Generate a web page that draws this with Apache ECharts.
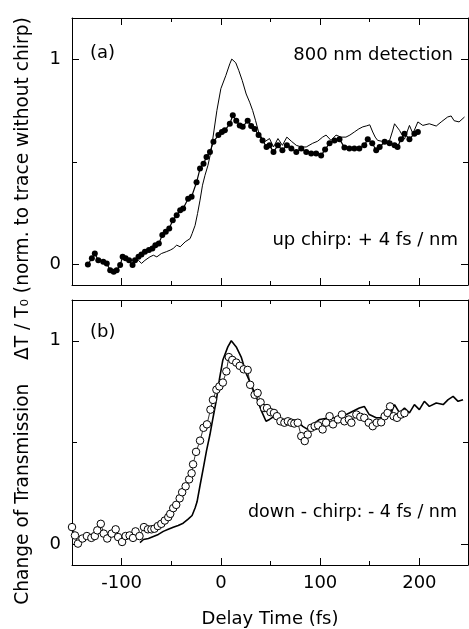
<!DOCTYPE html>
<html><head><meta charset="utf-8">
<script src="https://cdn.jsdelivr.net/npm/echarts@6/dist/echarts.min.js"></script>
<style>html,body{margin:0;padding:0;background:#fff}#c{width:469px;height:629px}</style>
</head><body><div id="c"></div>
<script>
// ---- data ----
const xTicksMajor = [-100, 0, 100, 200];
const xTicksMinor = [-50, 50, 150];
const yTicksMajor = [0, 1];
const yTicksMinor = [0.5];
const xRange = [-150, 249];
const yRange = [-0.1, 1.2];

// panel (a): reference trace without chirp (solid line)
const refA = [[-87,0.013],[-83,0.02],[-80,0.005],[-76.5,0.02],[-71.5,0.037],[-68,0.045],[-64.5,0.037],[-60,0.053],[-55,0.062],[-51,0.07],[-48,0.078],[-44.5,0.094],[-41,0.086],[-36,0.11],[-31,0.126],[-29,0.15],[-26,0.19],[-23.5,0.248],[-21,0.313],[-18.5,0.386],[-16,0.434],[-13,0.483],[-10,0.55],[-7,0.65],[-4,0.75],[0,0.856],[5,0.92],[9,0.977],[11,1.0],[15,0.982],[18,0.945],[21.5,0.896],[25.5,0.83],[29,0.79],[32,0.75],[35,0.7],[38,0.645],[41.5,0.613],[45,0.6],[49,0.613],[53,0.572],[57.5,0.613],[62,0.58],[66.5,0.62],[71,0.6],[76,0.58],[81,0.572],[86,0.572],[92.5,0.59],[97.5,0.6],[102.5,0.62],[106,0.63],[111,0.604],[116,0.63],[121,0.62],[126,0.62],[130,0.63],[134.5,0.645],[139,0.66],[143,0.67],[147,0.675],[150,0.68],[153,0.645],[155.5,0.62],[158,0.604],[162,0.6],[165,0.597],[170,0.604],[173,0.65],[175,0.685],[180,0.653],[185,0.61],[190,0.677],[193.5,0.637],[198.5,0.694],[203.5,0.677],[210,0.685],[217,0.674],[222,0.694],[228.5,0.718],[232,0.723],[235,0.7],[240,0.694],[245.5,0.718]];
// panel (a): up chirp data (filled dots)
const dotsA = [[-134,0.0],[-130,0.03],[-127,0.053],[-123.5,0.02],[-118.5,0.013],[-115,0.005],[-111.5,-0.028],[-108,-0.035],[-105,-0.028],[-101.5,-0.003],[-99,0.037],[-96,0.03],[-92.5,0.02],[-89,-0.003],[-86.5,0.02],[-83,0.037],[-80,0.048],[-76.5,0.062],[-72.5,0.07],[-69,0.078],[-66,0.094],[-62.5,0.102],[-59,0.143],[-55.5,0.159],[-52,0.175],[-48.5,0.215],[-44.5,0.24],[-41,0.264],[-38,0.272],[-33,0.32],[-29.5,0.33],[-24.5,0.4],[-21,0.467],[-17.5,0.49],[-14.5,0.523],[-11,0.548],[-7.5,0.597],[-2.5,0.63],[1,0.645],[4,0.653],[9,0.685],[12,0.726],[15.5,0.7],[19,0.677],[22,0.67],[27,0.7],[30.5,0.674],[34,0.66],[38,0.63],[42,0.604],[46,0.572],[49,0.58],[53,0.548],[57.5,0.58],[62,0.556],[66.5,0.58],[71,0.564],[76,0.548],[81,0.564],[86,0.548],[91,0.54],[96,0.54],[101,0.53],[105,0.56],[109.5,0.59],[114.5,0.604],[119.5,0.61],[124.5,0.57],[129.5,0.564],[134.5,0.564],[139.5,0.564],[144.5,0.58],[148,0.61],[152.5,0.59],[156.5,0.556],[160,0.572],[165,0.597],[170,0.59],[175,0.58],[178,0.572],[181.5,0.61],[185,0.637],[190,0.61],[195,0.637],[198.5,0.645]];
// panel (b): reference trace without chirp (solid line)
const refB = [[-81.5,0.01],[-78,0.025],[-73,0.03],[-68,0.04],[-63,0.05],[-58,0.065],[-53,0.075],[-48,0.085],[-43,0.094],[-38,0.105],[-33,0.125],[-29,0.143],[-26,0.18],[-24,0.21],[-21,0.29],[-17.5,0.38],[-14.5,0.46],[-11,0.54],[-8,0.62],[-4.5,0.71],[-1.5,0.81],[2,0.906],[7,0.97],[10.5,1.0],[15.5,0.97],[20.5,0.92],[25.5,0.84],[30.5,0.784],[35.5,0.727],[40.5,0.66],[45.5,0.605],[49,0.614],[54,0.63],[59,0.605],[66,0.614],[71,0.614],[77.5,0.605],[82.5,0.58],[87.5,0.565],[92.5,0.59],[99.5,0.614],[109.5,0.622],[119.5,0.622],[129.5,0.646],[139.5,0.67],[144.5,0.678],[149.5,0.638],[156.5,0.622],[165,0.622],[171.5,0.646],[175,0.687],[180,0.646],[185,0.67],[190,0.646],[195,0.687],[200,0.662],[205,0.703],[210,0.678],[217,0.695],[224,0.687],[229,0.711],[234,0.727],[239,0.703],[244,0.711]];
// panel (b): down chirp data (open circles)
const circlesB = [[-150,0.086],[-147,0.045],[-144,0.005],[-139.5,0.03],[-135,0.042],[-130.5,0.033],[-127,0.042],[-124.5,0.07],[-121,0.102],[-118,0.054],[-114.5,0.03],[-110,0.054],[-106,0.075],[-103.5,0.037],[-99.5,0.013],[-96,0.042],[-92,0.045],[-88.5,0.033],[-86,0.065],[-82,0.042],[-77.5,0.086],[-73.5,0.075],[-70,0.075],[-67,0.078],[-63.5,0.091],[-60,0.102],[-56.5,0.118],[-53,0.135],[-51,0.151],[-48,0.179],[-45,0.195],[-41.5,0.227],[-39,0.257],[-35.5,0.286],[-32,0.32],[-29.5,0.35],[-28,0.394],[-25,0.455],[-21,0.51],[-17.5,0.573],[-14,0.59],[-10.5,0.662],[-8,0.71],[-4.5,0.76],[-1.5,0.776],[2,0.795],[5.5,0.85],[8,0.92],[11.5,0.906],[15.5,0.893],[19,0.877],[23,0.86],[27,0.857],[29.5,0.784],[34,0.735],[37,0.744],[40,0.698],[43.5,0.67],[46.5,0.67],[50,0.65],[53.5,0.646],[56.5,0.63],[60,0.605],[64,0.598],[67.5,0.605],[71,0.598],[74,0.594],[77.5,0.598],[81,0.532],[84.5,0.508],[87.5,0.54],[91,0.573],[94.5,0.581],[98,0.585],[102.5,0.565],[106,0.598],[109.5,0.63],[113,0.59],[118,0.614],[122,0.638],[124.5,0.605],[129,0.614],[131.5,0.598],[136.5,0.638],[140.5,0.627],[144.5,0.622],[149,0.598],[153,0.581],[157,0.598],[161.5,0.6],[165,0.63],[168,0.646],[170.5,0.678],[174,0.63],[177.5,0.622],[181.5,0.638],[185,0.645]];

const FONT = 'DejaVu Sans';
const chart = echarts.init(document.getElementById('c'), null, {renderer: 'canvas'});

function xAx(grid, pos, major, labels, name) {
  const vals = major ? xTicksMajor : xTicksMinor;
  const a = {
    type: 'value', gridIndex: grid, position: pos, min: xRange[0], max: xRange[1],
    axisLine: {show: major, onZero: false, lineStyle: {color: '#000', width: 1}},
    axisTick: {show: true, inside: true, length: major ? 7 : 4, customValues: vals, lineStyle: {color: '#000', width: 1}},
    axisLabel: {show: labels, customValues: vals, color: '#000', fontFamily: FONT, fontSize: 18, margin: 9},
    splitLine: {show: false}
  };
  if (name) {
    a.name = name; a.nameLocation = 'middle'; a.nameGap = 45;
    a.nameTextStyle = {color: '#000', fontFamily: FONT, fontSize: 18};
  }
  return a;
}
function yAx(grid, pos, major, labels) {
  const vals = major ? yTicksMajor : yTicksMinor;
  return {
    type: 'value', gridIndex: grid, position: pos, min: yRange[0], max: yRange[1],
    axisLine: {show: major, onZero: false, lineStyle: {color: '#000', width: 1}},
    axisTick: {show: true, inside: true, length: major ? 7 : 5, customValues: vals, lineStyle: {color: '#000', width: 1}},
    axisLabel: {show: labels, customValues: vals, color: '#000', fontFamily: FONT, fontSize: 18, margin: 11},
    splitLine: {show: false}
  };
}

const xAxis = [
  xAx(0, 'bottom', true, false), xAx(0, 'bottom', false, false), xAx(0, 'top', true, false), xAx(0, 'top', false, false),
  xAx(1, 'bottom', true, true, 'Delay Time (fs)'), xAx(1, 'bottom', false, false), xAx(1, 'top', true, false), xAx(1, 'top', false, false)
];
const yAxis = [
  yAx(0, 'left', true, true), yAx(0, 'left', false, false), yAx(0, 'right', true, false), yAx(0, 'right', false, false),
  yAx(1, 'left', true, true), yAx(1, 'left', false, false), yAx(1, 'right', true, false), yAx(1, 'right', false, false)
];

function txt(x, y, text, align, size) {
  return {type: 'text', x: x, y: y, silent: true,
    style: {text: text, align: align, verticalAlign: 'middle', textAlign: align, textVerticalAlign: 'middle',
      fontFamily: FONT, fontSize: size || 18, font: (size || 18) + 'px "' + FONT + '"', fill: '#000'}};
}
const yTitle = txt(23, 311, 'Change of Transmission    \u0394T / T\u2080 (norm. to trace without chirp)', 'center', 18.6);
yTitle.rotation = Math.PI / 2;

chart.setOption({
  animation: false,
  backgroundColor: '#fff',
  grid: [
    {left: 72, right: 1, top: 18, height: 267},
    {left: 72, right: 1, top: 300, height: 266}
  ],
  xAxis: xAxis,
  yAxis: yAxis,
  graphic: [
    txt(90, 53, '(a)', 'left'),
    txt(453, 55, '800 nm detection', 'right'),
    txt(458, 240, 'up chirp: + 4 fs / nm', 'right'),
    txt(90, 332, '(b)', 'left'),
    txt(457, 512, 'down - chirp: - 4 fs / nm', 'right', 17.5),
    yTitle
  ],
  series: [
    {type: 'line', xAxisIndex: 0, yAxisIndex: 0, data: refA, symbol: 'none', lineStyle: {color: '#000', width: 1}},
    {type: 'line', xAxisIndex: 0, yAxisIndex: 0, data: dotsA, symbol: 'circle', symbolSize: 6, showAllSymbol: true,
      itemStyle: {color: '#000'}, lineStyle: {color: '#000', width: 1.2}},
    {type: 'line', xAxisIndex: 4, yAxisIndex: 4, data: refB, symbol: 'none', lineStyle: {color: '#000', width: 1.6}},
    {type: 'line', xAxisIndex: 4, yAxisIndex: 4, data: circlesB, symbol: 'circle', symbolSize: 7.5, showAllSymbol: true, clip: false,
      itemStyle: {color: '#fff', borderColor: '#000', borderWidth: 1}, lineStyle: {color: '#000', width: 0.8}}
  ]
});
</script></body></html>
